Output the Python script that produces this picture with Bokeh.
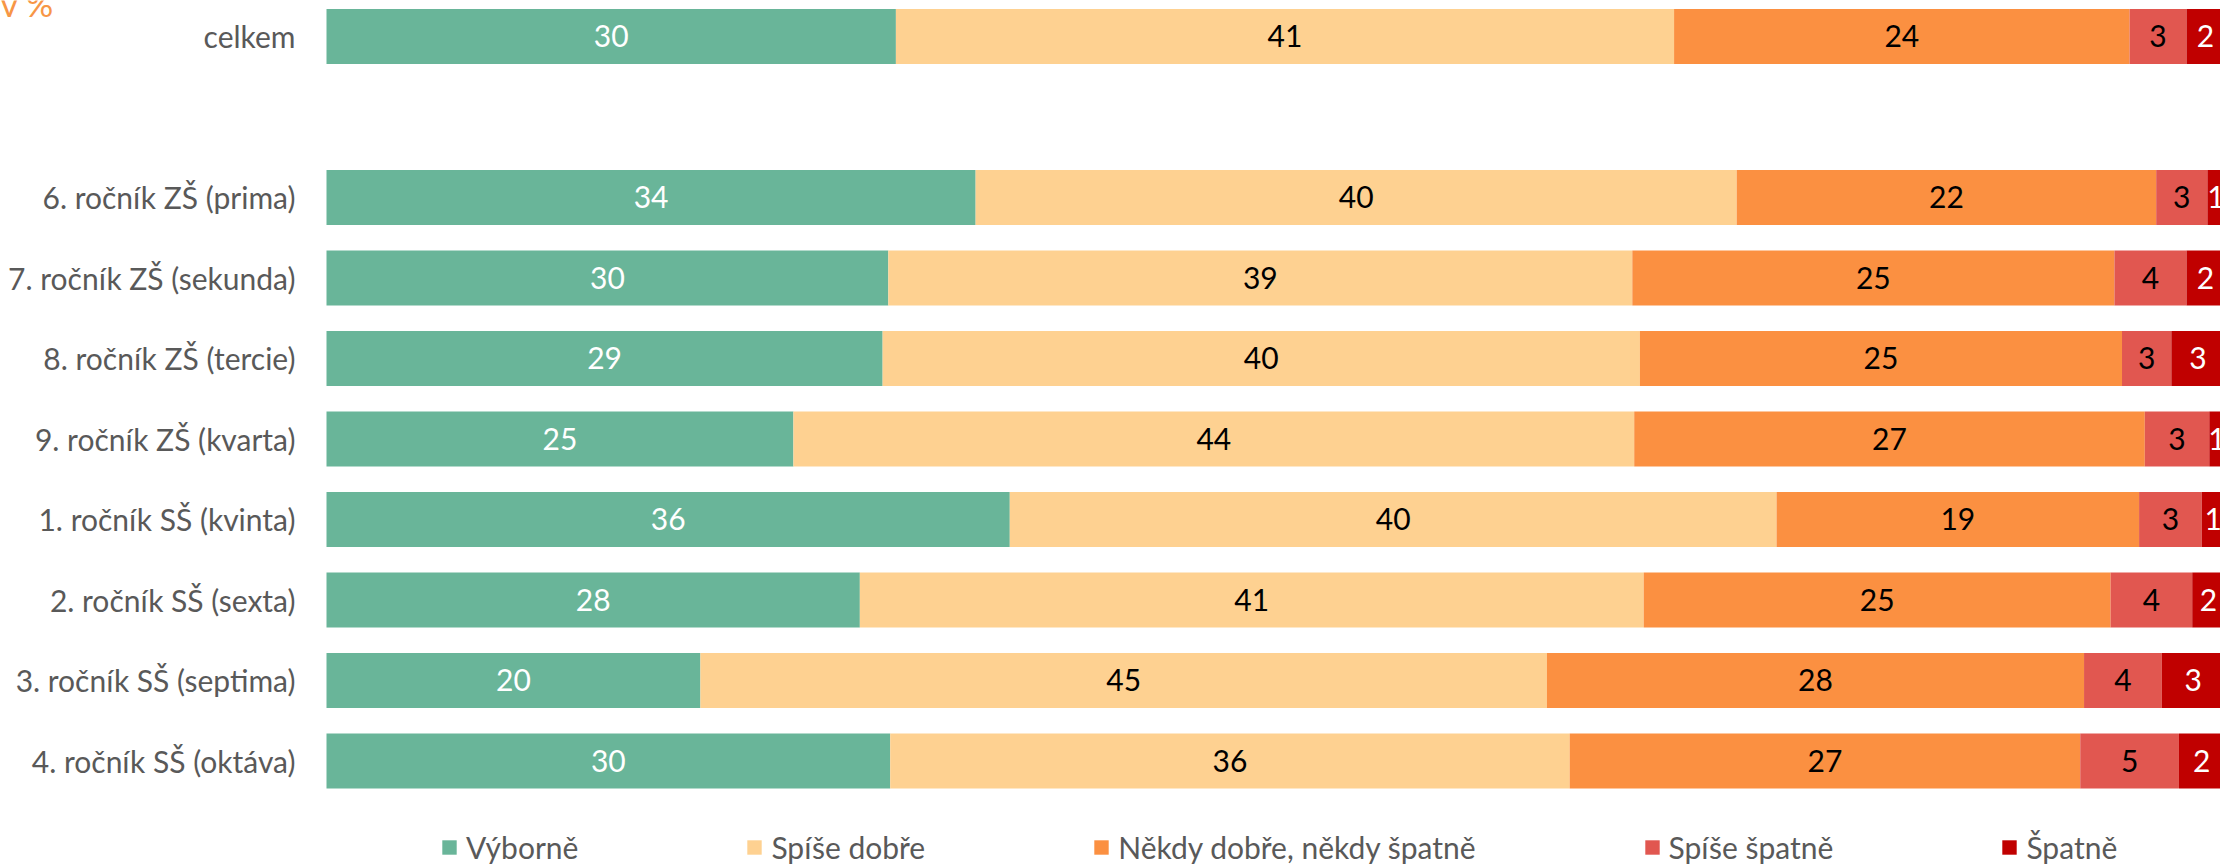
from bokeh.plotting import figure
from bokeh.models import ColumnDataSource, Range1d, Legend, LegendItem
from bokeh.core.properties import value
from bokeh.embed import file_html
from bokeh.resources import INLINE

# ---- data ----
rows = ["celkem",
        "6. ročník ZŠ (prima)", "7. ročník ZŠ (sekunda)", "8. ročník ZŠ (tercie)",
        "9. ročník ZŠ (kvarta)", "1. ročník SŠ (kvinta)", "2. ročník SŠ (sexta)",
        "3. ročník SŠ (septima)", "4. ročník SŠ (oktáva)"]
series = ["Výborně", "Spíše dobře", "Někdy dobře, někdy špatně", "Spíše špatně", "Špatně"]
vyborne      = [30.0, 34.2, 29.6, 29.3, 24.6, 36.0, 28.1, 19.7, 29.7]
spise_dobre  = [41.0, 40.1, 39.2, 39.9, 44.3, 40.4, 41.3, 44.6, 35.8]
nekdy        = [24.0, 22.1, 25.4, 25.4, 26.9, 19.1, 24.6, 28.3, 26.9]
spise_spatne = [3.0, 2.7, 3.8, 2.6, 3.4, 3.3, 4.3, 4.1, 5.2]
spatne       = [2.0, 0.9, 2.0, 2.8, 0.8, 1.2, 1.7, 3.3, 2.4]
unit_label = "v %"

colors = ["#69B599", "#FED191", "#FB9041", "#E15750", "#C00000"]
label_colors = ["white", "black", "black", "black", "white"]

# positions: 'celkem' on top, one empty slot, then the grades
ypos = [9] + list(range(7, -1, -1))

FONT = "Lato"
W, H = 2220, 865
PX_PER_PCT = 18.98      # horizontal scale
PX_PER_ROW = 80.5       # vertical scale
LEFT_PX = 326           # where 0 % sits
TOP_Y = 9.447           # data y at the top edge

x0 = -LEFT_PX / PX_PER_PCT
x1 = (W - LEFT_PX) / PX_PER_PCT
y1 = TOP_Y
y0 = TOP_Y - H / PX_PER_ROW

p = figure(frame_width=W, frame_height=H,
           x_range=Range1d(x0, x1), y_range=Range1d(y0, y1),
           min_border=0, x_axis_location=None, y_axis_location=None,
           toolbar_location=None, output_backend="svg")
p.outline_line_color = None
p.xgrid.visible = False
p.ygrid.visible = False

all_series = [vyborne, spise_dobre, nekdy, spise_spatne, spatne]
keys = ["s0", "s1", "s2", "s3", "s4"]
data = dict(y=ypos)
for k, vals in zip(keys, all_series):
    data[k] = vals
src = ColumnDataSource(data)

renderers = p.hbar_stack(keys, y="y", height=0.683, color=colors, line_color=None, source=src)

# data labels centred in each segment
left = [0.0] * len(rows)
for i, vals in enumerate(all_series):
    xs = [l + v / 2 for l, v in zip(left, vals)]
    txt = [str(int(round(v))) for v in vals]
    s = ColumnDataSource(dict(x=xs, y=ypos, t=txt))
    p.text(x="x", y="y", text="t", source=s, text_align="center", text_baseline="middle",
           text_font=value(FONT), text_font_size="30px", text_color=label_colors[i])
    left = [l + v for l, v in zip(left, vals)]

# category labels (right aligned, left of the bars)
cat_src = ColumnDataSource(dict(x=[-31 / PX_PER_PCT] * len(rows), y=ypos, t=rows))
p.text(x="x", y="y", text="t", source=cat_src, text_align="right", text_baseline="middle",
       text_font=value(FONT), text_font_size="30px", text_color="#595959")

# unit note at the top-left corner (cut off at the top as in the original)
p.text(x=[x0], y=[TOP_Y - 3 / PX_PER_ROW], text=[unit_label], text_align="left",
       text_baseline="alphabetic", text_font=value(FONT), text_font_size="34px",
       text_color="#F79646")

legend = Legend(items=[LegendItem(label=n, renderers=[r]) for n, r in zip(series, renderers)],
                orientation="horizontal", location=(440, 0), spacing=167,
                glyph_width=18, glyph_height=18, label_standoff=8, padding=0,
                margin=0, border_line_color=None, background_fill_alpha=0,
                label_text_font=FONT, label_text_font_size="30px", label_text_color="#595959")
p.add_layout(legend)

open("out.html", "w").write(file_html(p, INLINE))
